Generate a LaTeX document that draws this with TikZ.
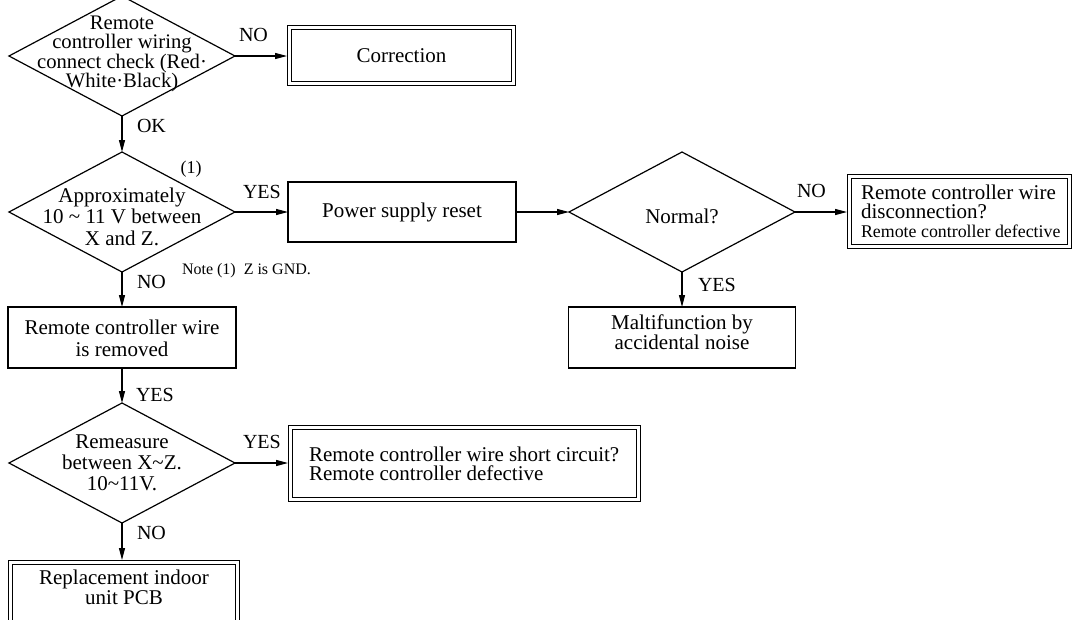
\documentclass[tikz,border=0pt]{standalone}
\usepackage{fontspec}
\setmainfont{Liberation Serif}
\usetikzlibrary{shapes.geometric,arrows.meta}
% one drawing unit = 0.75pt
\def\px{*0.75pt}
\begin{document}
\begin{tikzpicture}[x=0.75pt,y=-0.75pt,line width=0.9pt,
  every node/.style={inner sep=0pt,outer sep=0pt,font=\fontsize{15.75}{15}\selectfont},
  dec/.style={draw,diamond,minimum width=226\px,minimum height=120\px},
  box/.style={draw,rectangle,align=center},
  dbox/.style={draw,rectangle,double,double distance=2.2pt,outer sep=2pt},
  flow/.style={-{Triangle[length=9pt,width=4.5pt]}},
  lab/.style={anchor=west,font=\fontsize{15}{15}\selectfont},
]
\useasboundingbox (0,0) rectangle (1076,619);

% decisions
\node[dec,label={[name=d1t,align=center,font=\fontsize{15.5}{14.5}\selectfont,yshift=1.5pt]center:{Remote\\controller wiring\\connect check (Red·\\White·Black)}}] (d1) at (122,56) {};
\node[dec,label={[name=d2t,align=center,font=\fontsize{15.75}{16}\selectfont,yshift=-3.4pt]center:{Approximately\\10 \textasciitilde{} 11 V between\\X and Z.}}] (d2) at (122,212) {};
\node[dec,label={[name=nt,yshift=-3pt]center:{Normal?}}] (normal) at (682,212) {};
\node[dec,label={[name=d4t,align=center,font=\fontsize{15.75}{15.75}\selectfont]center:{Remeasure\\between X\textasciitilde Z.\\10\textasciitilde 11V.}}] (d4) at (122,463) {};

% actions
\node[dbox,minimum width=223.6\px,minimum height=55.6\px] (corr) at (401.5,55.5) {Correction};
\node[box,minimum width=228\px,minimum height=60\px] (psr) at (402,212) {Power supply reset};
\node[dbox,minimum width=219.6\px,minimum height=69.6\px,
  label={[name=rbt,anchor=west,align=left,xshift=10.5pt,font=\fontsize{15.75}{14.25}\selectfont]west:{Remote controller wire\\disconnection?\\{\fontsize{13.4}{14.25}\selectfont Remote controller defective}}}] (rbox) at (959.5,211.5) {};
\node[box,minimum width=227\px,minimum height=61\px,
  label={[name=mt,align=center,yshift=3.75pt]center:{Maltifunction by\\accidental noise}}] (malt) at (682,337.5) {};
\node[box,minimum width=228\px,minimum height=61\px,
  label={[name=rmt,align=center,font=\fontsize{15.75}{16.5}\selectfont,yshift=-0.75pt]center:{Remote controller wire\\is removed}}] (rem) at (122,337.5) {};
\node[dbox,minimum width=347.6\px,minimum height=71.6\px,
  label={[name=sct,anchor=west,align=left,xshift=15.75pt,font=\fontsize{15.75}{14.25}\selectfont]west:{Remote controller wire short circuit?\\Remote controller defective}}] (sc) at (464.5,463.5) {};
\node[dbox,minimum width=226.6\px,minimum height=60.6\px,
  label={[name=rpt,align=center,yshift=4.5pt]center:{Replacement indoor\\unit PCB}}] (rep) at (124,593) {};

% connectors
\draw[flow] (d1.east) -- (corr.west |- d1.east);
\draw[flow] (d1.south) -- (d2.north);
\draw[flow] (d2.east) -- (psr.west);
\draw[flow] (psr.east) -- (normal.west);
\draw[flow] (normal.east) -- (rbox.west |- normal.east);
\draw[flow] (normal.south) -- (malt.north -| normal.south);
\draw[flow] (d2.south) -- (rem.north);
\draw[flow] (rem.south) -- (d4.north);
\draw[flow] (d4.east) -- (sc.west |- d4.east);
\draw[flow] (d4.south) -- (rep.north -| d4.south);

% branch labels and notes
\node[lab] (lno1) at (239,35) {NO};
\node[lab] (lok) at (137,126) {OK};
\node[lab] (lyes1) at (243,192) {YES};
\node[font=\fontsize{13.5}{14}\selectfont] (n1) at (191,169) {(1)};
\node[lab] (lno2) at (137,282) {NO};
\node[anchor=west,font=\fontsize{12}{12}\selectfont] (note) at (182,271) {Note (1)\ \ Z is GND.};
\node[lab] (lno3) at (797,191) {NO};
\node[lab] (lyes2) at (698,285) {YES};
\node[lab] (lyes3) at (136,395) {YES};
\node[lab] (lyes4) at (243,442) {YES};
\node[lab] (lno4) at (137,533) {NO};
\end{tikzpicture}
\end{document}
